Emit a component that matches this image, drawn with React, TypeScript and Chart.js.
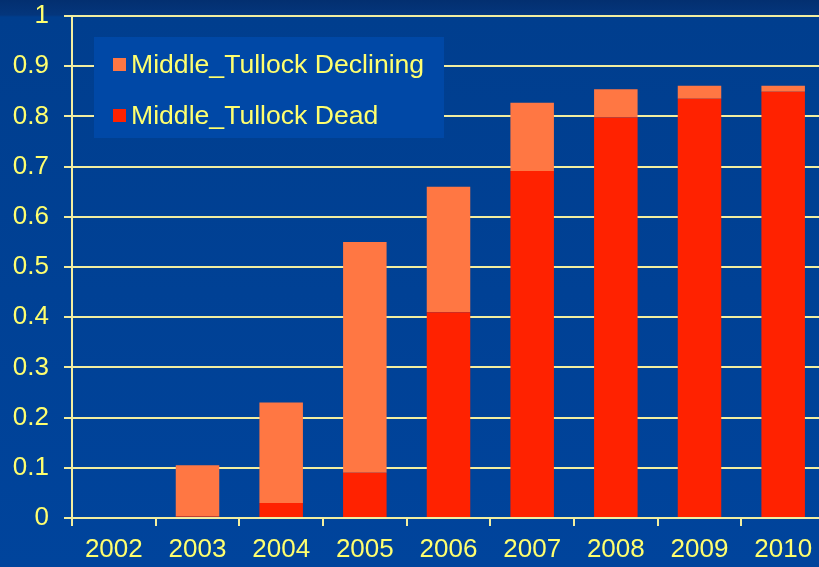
import React, { useEffect, useRef } from "react";
import { Chart, registerables } from "chart.js";

Chart.register(...registerables);

const years = ["2002", "2003", "2004", "2005", "2006", "2007", "2008", "2009", "2010"];
const deadValues = [0, 0.003, 0.03, 0.09, 0.41, 0.691, 0.798, 0.835, 0.849];
const decliningValues = [0, 0.102, 0.2, 0.46, 0.25, 0.136, 0.056, 0.026, 0.012];
const seriesNames = ["Middle_Tullock Dead", "Middle_Tullock Declining"];
const seriesColors = ["#ff2200", "#ff7743"];

const TEXT = "#ffff6e";
const GRID = "#f2eea0";
const FONT = "'Liberation Sans', Arial, sans-serif";

const legendPlugin = {
  id: "boxLegend",
  afterDraw(chart: any) {
    const ctx = chart.ctx;
    ctx.save();
    ctx.fillStyle = "#0048a6";
    ctx.fillRect(94, 37, 350, 101);
    const items = [...chart.data.datasets].reverse();
    items.forEach((ds: any, i: number) => {
      const y = 65 + i * 51;
      ctx.fillStyle = ds.backgroundColor;
      ctx.fillRect(113, y - 7, 13, 13);
      ctx.fillStyle = TEXT;
      ctx.font = `26.6px ${FONT}`;
      ctx.textBaseline = "middle";
      ctx.textAlign = "left";
      ctx.fillText(ds.label, 131, y + 1);
    });
    ctx.restore();
  },
};

export default function App() {
  const ref = useRef<HTMLCanvasElement>(null);
  useEffect(() => {
    const canvas = ref.current!;
    const chart = new Chart(canvas, {
      type: "bar",
      data: {
        labels: years,
        datasets: [
          {
            label: seriesNames[0],
            data: deadValues,
            backgroundColor: seriesColors[0],
            borderWidth: 0,
          },
          {
            label: seriesNames[1],
            data: decliningValues,
            backgroundColor: seriesColors[1],
            borderWidth: 0,
          },
        ],
      },
      options: {
        responsive: false,
        animation: false,
        layout: { padding: { left: 0, right: 3, top: 16, bottom: 0 } },
        datasets: { bar: { categoryPercentage: 1, barPercentage: 0.52 } },
        plugins: {
          legend: { display: false },
          tooltip: { enabled: false },
        },
        scales: {
          x: {
            stacked: true,
            afterFit: (s: any) => {
              s.height = 49;
              s.paddingLeft = 0;
              s.paddingRight = 0;
            },
            grid: {
              offset: true,
              drawOnChartArea: false,
              drawTicks: true,
              tickLength: 8,
              color: GRID,
              lineWidth: 2,
            },
            border: { display: true, color: GRID, width: 2 },
            ticks: {
              color: TEXT,
              font: { family: FONT, size: 26 },
              padding: 8,
              maxRotation: 0,
            },
          },
          y: {
            stacked: true,
            min: 0,
            max: 1,
            afterFit: (s: any) => {
              s.width = 72;
              s.paddingTop = 0;
              s.paddingBottom = 0;
            },
            grid: {
              color: GRID,
              lineWidth: 2,
              tickLength: 8,
              drawTicks: true,
            },
            border: { display: true, color: GRID, width: 2 },
            ticks: {
              stepSize: 0.1,
              color: TEXT,
              font: { family: FONT, size: 26 },
              padding: 15,
              callback: (v: any) => String(Math.round(Number(v) * 10) / 10),
            },
          },
        },
      },
      plugins: [legendPlugin],
    });
    return () => chart.destroy();
  }, []);
  return (
    <div
      style={{
        position: "fixed",
        left: 0,
        top: 0,
        width: 819,
        height: 567,
        overflow: "hidden",
        background:
          "linear-gradient(to bottom, #032f70 0px, #04367c 15px, #003e8e 17px, #00449c 567px)",
      }}
    >
      <canvas ref={ref} width={828} height={567} style={{ display: "block" }} />
    </div>
  );
}
